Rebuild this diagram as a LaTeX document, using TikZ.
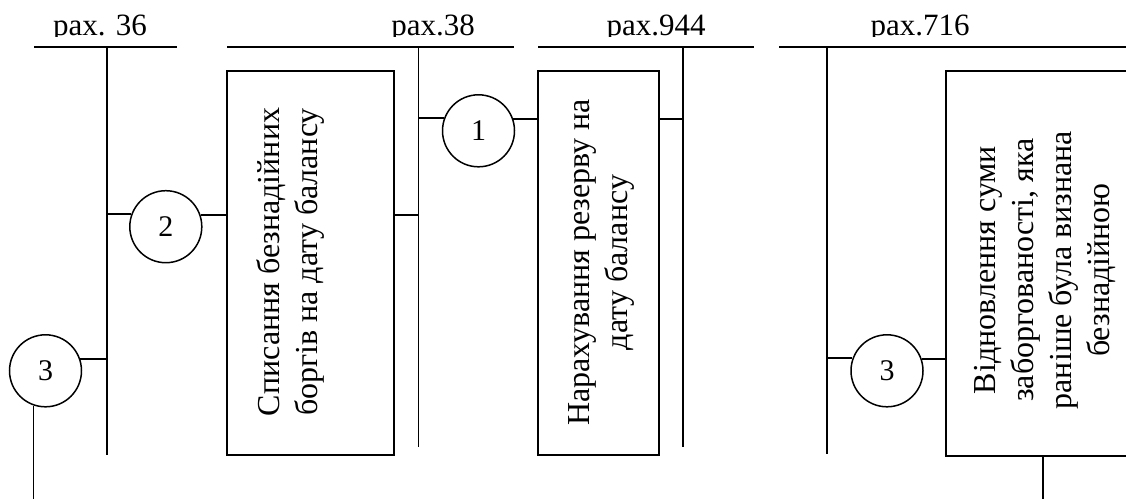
\documentclass[tikz,border=0pt]{standalone}
\usepackage{fontspec}
\setmainfont{Liberation Serif}
\begin{document}
\begin{tikzpicture}[x=1pt,y=-1pt,line width=1.8pt,
  circ/.style={draw,circle,minimum size=72pt,inner sep=0pt,line width=1.5pt,font=\fontsize{30}{36}\selectfont},
  box/.style={draw,rectangle,inner sep=0pt,line width=1.8pt},
  vtext/.style={rotate=90,align=center,inner sep=0pt,font=\fontsize{32}{38}\selectfont},
  lab/.style={anchor=base,inner sep=0pt,font=\fontsize{31}{37}\selectfont}]
\path[use as bounding box] (0,0) rectangle (1126,499);
% account labels (clipped at bottom as in the original)
\begin{scope}
\clip (0,0) rectangle (1126,36);
\node[lab] (l36) at (100,35) {рах. 36};
\node[lab] (l38) at (433,35) {рах.38};
\node[lab] (l944) at (656,35) {рах.944};
\node[lab] (l716) at (920,35) {рах.716};
\end{scope}
% T-accounts
\coordinate (h36a) at (34,47.3);  \coordinate (h36b) at (177,47.3);
\coordinate (h38a) at (227,47.3); \coordinate (h38b) at (514,47.3);
\coordinate (h944a) at (538,47.3); \coordinate (h944b) at (754,47.3);
\coordinate (h716a) at (779,47.3); \coordinate (h716b) at (1130,47.3);
\coordinate (v36t) at (107,47.3);   \coordinate (v36b) at (107,455);
\coordinate (v38t) at (418.5,47.3); \coordinate (v38b) at (418.5,447);
\coordinate (v944t) at (682.7,47.3); \coordinate (v944b) at (682.7,447);
\coordinate (v716t) at (826.7,47.3); \coordinate (v716b) at (826.7,454);
\draw (h36a) -- (h36b);   \draw (v36t) -- (v36b);
\draw (h38a) -- (h38b);   \draw (v38t) -- (v38b);
\draw (h944a) -- (h944b); \draw (v944t) -- (v944b);
\draw (h716a) -- (h716b); \draw (v716t) -- (v716b);
% boxes
\node[box,minimum width=167pt,minimum height=384pt] (b1) at (310.5,263) {};
\node[box,minimum width=121pt,minimum height=384pt] (b2) at (598.5,263) {};
\node[box,minimum width=214pt,minimum height=385pt] (b3) at (1053,263.5) {};
\node[vtext] (t1) at (290,262) {Списання безнадійних\\боргів на дату балансу};
\node[vtext] (t2) at (601,262.5) {Нарахування резерву на\\дату балансу};
\node[vtext] (t3) at (1045,270) {Відновлення суми\\заборгованості, яка\\раніше була визнана\\безнадійною};
% circles
\node[circ] (c1) at (478.5,130.8) {1};
\node[circ] (c2) at (165.8,226.7) {2};
\node[circ] (c3a) at (45.5,370.8) {3};
\node[circ] (c3b) at (887,370.8) {3};
% connectors
\draw (c1.160.5 -| v38t) -- (c1.160.5);
\draw (c1.19.5) -- (c1.19.5 -| b2.west);
\draw (b2.east |- c1.19.5) -- (c1.19.5 -| v944t);
\draw (c2.160.5 -| v36t) -- (c2.160.5);
\draw (c2.19.5) -- (c2.19.5 -| b1.west);
\draw (b1.east |- c2.19.5) -- (c2.19.5 -| v38t);
\draw (c3a.19.5) -- (c3a.19.5 -| v36t);
\coordinate (e3) at (34,499);
\draw (c3a.251.4) -- (c3a.251.4 |- e3);
\draw (c3b.160.5 -| v716t) -- (c3b.160.5);
\draw (c3b.19.5) -- (c3b.19.5 -| b3.west);
\coordinate (e4) at (1042.7,499);
\draw (e4 |- b3.south) -- (e4);
\end{tikzpicture}
\end{document}
